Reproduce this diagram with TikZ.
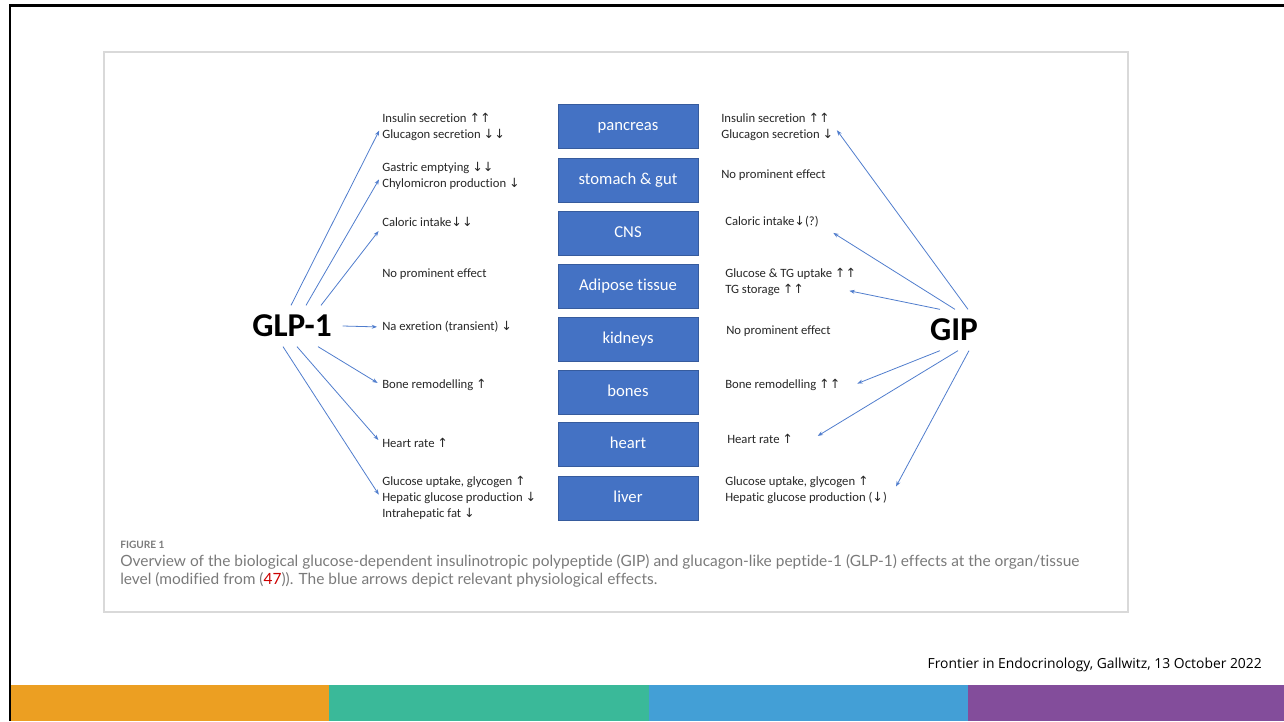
\documentclass[tikz,border=0pt]{standalone}
\usepackage{fontspec}
\setmainfont[Ligatures=NoCommon]{Carlito}
\newfontfamily\capfont[Ligatures=NoCommon]{Lato}
\newfontfamily\footfont{Open Sans}
\newfontfamily\arrfont{DejaVu Sans}
\usepackage{xcolor}
\usepackage{tikz}
\usetikzlibrary{arrows.meta}

\definecolor{organblue}{RGB}{68,114,196}
\definecolor{effblue}{RGB}{80,125,205}
\definecolor{capgray}{RGB}{122,122,122}
\definecolor{barorange}{RGB}{236,159,34}
\definecolor{barteal}{RGB}{58,185,153}
\definecolor{barblue}{RGB}{67,159,214}
\definecolor{barpurple}{RGB}{131,77,155}

\newcommand{\arrup}{{\arrfont\char"2191}}
\newcommand{\arrdn}{{\arrfont\char"2193}}

\tikzset{
  organ/.style={fill=organblue, draw=organblue!80!black, line width=0.4pt, minimum width=105pt, minimum height=33pt, inner sep=0pt, text height=8.5pt, text depth=2pt, text=white, font=\fontsize{12.5}{15}\selectfont},
  effect/.style={anchor=west, align=left, inner sep=0.75pt, text=black!85, font=\fontsize{9.5}{12}\selectfont},
  hormone/.style={inner xsep=8pt, inner ysep=7pt, font=\fontsize{25}{30}\selectfont\bfseries},
  act/.style={draw=effblue, line width=0.6pt, -{Stealth[length=4pt,width=3pt]}, shorten >=3pt},
}

\begin{document}
\begin{tikzpicture}[x=0.75pt,y=0.75pt,yscale=-1,xscale=1]
\useasboundingbox (0,0) rectangle (1284,721);

%Shape: colour bars at the foot of the slide
\fill[barorange] (11,685) rectangle (329,721);
\fill[barteal] (329,685) rectangle (649,721);
\fill[barblue] (649,685) rectangle (968,721);
\fill[barpurple] (968,685) rectangle (1284,721);
%Shape: slide frame
\draw[line width=2pt] (10,721) -- (10,5.5) -- (1284,5.5);
%Shape: figure panel
\draw[black!15, line width=1.1pt] (104,52) rectangle (1128,612);

%Organ boxes
\foreach \nm/\y/\txt in {panc/126/pancreas, stom/180/stomach \& gut, cns/233/CNS, adip/286/Adipose tissue, kid/339/kidneys, bone/392/bones, heart/444/heart, liv/498/liver}
  \node[organ] (\nm) at (628,\y) {\txt};

%Hormones
\node[hormone] (glp) at (292,326) {GLP-1};
\node[hormone] (gip) at (954,330) {GIP};

% Text Node: GLP-1 effects
\node[effect] (lpanc) at (381,127) {Insulin secretion \arrup\arrup\\Glucagon secretion \arrdn\arrdn};
\node[effect] (lstom) at (381,176) {Gastric emptying \arrdn\arrdn\\Chylomicron production \arrdn};
\node[effect] (lcns) at (381,222) {Caloric intake\arrdn\arrdn};
\node[effect] (ladip) at (381,274) {No prominent effect};
\node[effect] (lkid) at (381,327) {Na exretion (transient) \arrdn};
\node[effect] (lbone) at (381,385) {Bone remodelling \arrup};
\node[effect] (lheart) at (381,443) {Heart rate \arrup};
\node[effect] (lliv) at (381,498) {Glucose uptake, glycogen \arrup\\Hepatic glucose production \arrdn\\Intrahepatic fat \arrdn};

% Text Node: GIP effects
\node[effect] (rpanc) at (720,127) {Insulin secretion \arrup\arrup\\Glucagon secretion \arrdn};
\node[effect] (rstom) at (720,175) {No prominent effect};
\node[effect] (rcns) at (724,222) {Caloric intake\arrdn(?)};
\node[effect] (radip) at (724,282) {Glucose \& TG uptake \arrup\arrup\\TG storage \arrup\arrup};
\node[effect] (rkid) at (725,331) {No prominent effect};
\node[effect] (rbone) at (724,385) {Bone remodelling \arrup\arrup};
\node[effect] (rheart) at (726,439) {Heart rate \arrup};
\node[effect] (rliv) at (724,490) {Glucose uptake, glycogen \arrup\\Hepatic glucose production (\arrdn)};

%Straight Lines: GLP-1 arrows
\draw[act] ([shift={(-1,0)}]glp.north) -- (lpanc.west);
\draw[act] ([shift={(14,0)}]glp.north) -- (lstom.west);
\draw[act] ([shift={(29,0)}]glp.north) -- (lcns.south west);
\draw[act] (glp.east) -- (lkid.west);
\draw[act] ([shift={(26,0)}]glp.south) -- (lbone.west);
\draw[act] ([shift={(5,0)}]glp.south) -- (lheart.west);
\draw[act] ([shift={(-9,0)}]glp.south) -- (lliv.west);

%Straight Lines: GIP arrows
\draw[act] ([shift={(14,0)}]gip.north) -- (rpanc.east);
\draw[act] ([shift={(1,0)}]gip.north) -- ([shift={(10,2)}]rcns.south east);
\draw[act] ([shift={(-14,0)}]gip.north) -- ([shift={(-12,8)}]radip.east);
\draw[act] ([shift={(-14,0)}]gip.south) -- ([shift={(12,0)}]rbone.east);
\draw[act] ([shift={(4,0)}]gip.south) -- ([shift={(20,-1)}]rheart.east);
\draw[act] ([shift={(15,0)}]gip.south) -- ([shift={(6,0)}]rliv.east);

% Text Node: caption
\node[anchor=west, inner sep=0, text=capgray, font=\capfont\bfseries\fontsize{7.6}{9}\selectfont] (fig) at (120,545) {FIGURE 1};
\node[anchor=north west, align=left, inner sep=0, text=capgray, font=\capfont\fontsize{11.6}{13.5}\selectfont] (cap) at (120,554) {Overview of the biological glucose-dependent insulinotropic polypeptide (GIP) and glucagon-like peptide-1 (GLP-1) effects at the organ/tissue\\level (modified from ({\color{red!80!black}47})). The blue arrows depict relevant physiological effects.};

% Text Node: source
\node[anchor=east, inner sep=0, font=\footfont\fontsize{10.4}{12}\selectfont] (src) at (1262,665) {Frontier in Endocrinology, Gallwitz, 13 October 2022};

\end{tikzpicture}
\end{document}
